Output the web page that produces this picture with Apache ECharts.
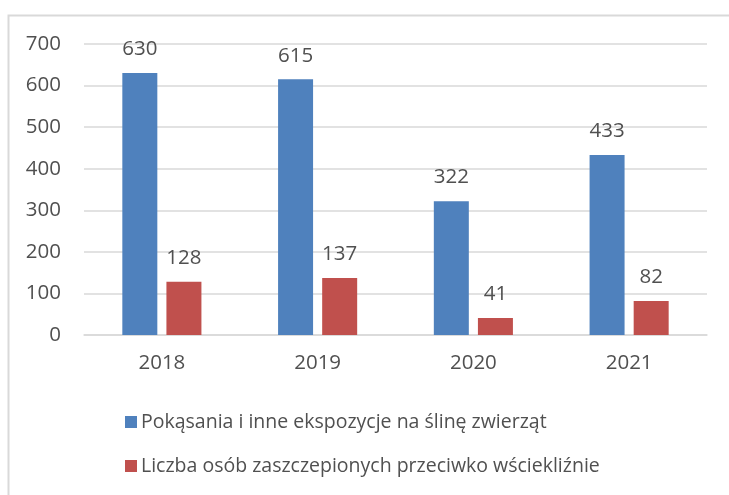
<!DOCTYPE html>
<html>
<head>
<meta charset="utf-8">
<script src="https://cdn.jsdelivr.net/npm/echarts@6/dist/echarts.min.js"></script>
<style>
  html, body { margin: 0; padding: 0; background: #fff; }
  #chart { width: 729px; height: 495px; }
</style>
</head>
<body>
<div id="chart"></div>
<script>
  var years = ['2018', '2019', '2020', '2021'];
  var exposures = [630, 615, 322, 433];
  var vaccinated = [128, 137, 41, 82];
  var seriesNames = ['Pokąsania i inne ekspozycje na ślinę zwierząt', 'Liczba osób zaszczepionych przeciwko wściekliźnie'];

  var font = 'Open Sans';
  var textColor = '#505050';

  var chart = echarts.init(document.getElementById('chart'));
  chart.setOption({
    animation: false,
    textStyle: { fontFamily: font },
    graphic: [{
      type: 'rect',
      shape: { x: 8.5, y: 15.5, width: 760, height: 520 },
      style: { fill: 'none', stroke: '#d9d9d9', lineWidth: 2 }
    }],
    grid: { left: 84, right: 22, top: 44, bottom: 160 },
    legend: {
      orient: 'vertical',
      left: 120,
      top: 407,
      itemWidth: 12,
      itemHeight: 12,
      itemGap: 24,
      icon: 'rect',
      textStyle: { fontFamily: font, fontSize: 19.5, color: textColor, padding: [0, 0, 0, -1] },
      data: seriesNames
    },
    xAxis: {
      type: 'category',
      data: years,
      axisLine: { show: true, lineStyle: { color: '#d9d9d9', width: 1.5 } },
      axisTick: { show: false },
      axisLabel: { fontFamily: font, fontSize: 20.5, color: textColor, margin: 18 }
    },
    yAxis: {
      type: 'value',
      min: 0,
      max: 700,
      interval: 100,
      axisLine: { show: false },
      axisTick: { show: false },
      splitLine: { lineStyle: { color: '#d9d9d9', width: 1.5 } },
      axisLabel: { fontFamily: font, fontSize: 20.5, color: textColor, margin: 23 }
    },
    series: [
      {
        name: seriesNames[0],
        type: 'bar',
        data: exposures,
        barWidth: 35,
        barGap: '26%',
        itemStyle: { color: '#4F81BD' },
        label: { show: true, position: 'top', distance: 13, fontFamily: font, fontSize: 20.5, color: textColor }
      },
      {
        name: seriesNames[1],
        type: 'bar',
        data: vaccinated,
        barWidth: 35,
        barGap: '26%',
        itemStyle: { color: '#C0504D' },
        label: { show: true, position: 'top', distance: 13, fontFamily: font, fontSize: 20.5, color: textColor }
      }
    ]
  });
</script>
</body>
</html>
